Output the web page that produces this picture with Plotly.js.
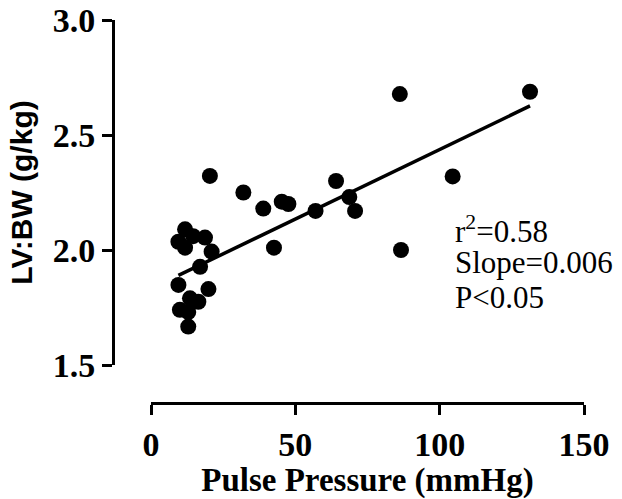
<!DOCTYPE html>
<html>
<head>
<meta charset="utf-8">
<script src="https://cdn.plot.ly/plotly-3.0.1.min.js"></script>
<style>html,body{margin:0;padding:0;background:#fff;}#chart{width:622px;height:499px;}</style>
</head>
<body>
<div id="chart"></div>
<script>
// Pulse pressure (mmHg)
const pulsePressure = [9.5, 11.8, 11.8, 14.6, 18.7, 21.0, 17.0, 9.5, 19.9, 13.5, 16.4, 10.0, 12.9, 12.9,
                       20.4, 32.0, 38.9, 45.3, 47.6, 57.0, 64.1, 68.7, 70.7, 42.6, 86.6, 86.2, 104.5, 131.3];
// LV:BW (g/kg)
const lvbw = [2.036, 2.09, 2.01, 2.06, 2.054, 1.993, 1.927, 1.848, 1.83, 1.79, 1.775, 1.74, 1.73, 1.667,
              2.322, 2.25, 2.18, 2.21, 2.20, 2.17, 2.30, 2.23, 2.17, 2.01, 2.00, 2.678, 2.32, 2.688];
// Linear fit
const fitSlope = 0.00605;
const fitIntercept = 1.832;
const xTicks = [0, 50, 100, 150];
const xTickLabels = ['0', '50', '100', '150'];
const yTicks = [1.5, 2.0, 2.5, 3.0];
const yTickLabels = ['1.5', '2.0', '2.5', '3.0'];
const statsLines = ['r<sup>2</sup>=0.58', 'Slope=0.006', 'P&lt;0.05'];
const statsY = [2.09, 1.945, 1.795];
const statsX = 104.6;

const xMin = Math.min(...pulsePressure), xMax = Math.max(...pulsePressure);
const fitX = [xMin, xMax];
const fitY = fitX.map(v => fitIntercept + fitSlope * v);

const W = 622, H = 499;
const mL = 113, mR = 38, mT = 20, mB = 96;
const plotW = W - mL - mR, plotH = H - mT - mB;
const xStartPx = 151, yEndPx = 365;

const serif = 'Liberation Serif, Times New Roman, serif';
const sans = 'Liberation Sans, Arial, sans-serif';

const traces = [
  {x: pulsePressure, y: lvbw, type: 'scatter', mode: 'markers',
   marker: {color: '#000', size: 16}, hoverinfo: 'x+y'},
  {x: fitX, y: fitY, type: 'scatter', mode: 'lines',
   line: {color: '#000', width: 3.5}, hoverinfo: 'skip'}
];

const layout = {
  width: W, height: H,
  margin: {l: mL, r: mR, t: mT, b: mB, pad: 0},
  paper_bgcolor: '#fff', plot_bgcolor: '#fff',
  showlegend: false,
  xaxis: {
    domain: [(xStartPx - mL) / plotW, 1],
    range: [0, 150], anchor: 'free', position: 0,
    showline: true, linecolor: '#000', linewidth: 3,
    ticks: 'outside', ticklen: 10, tickwidth: 3, tickcolor: '#000',
    tickvals: xTicks, ticktext: xTickLabels,
    tickfont: {family: serif, size: 34, color: '#000', weight: 'bold'},
    showgrid: false, zeroline: false,
    title: {text: '<b>Pulse Pressure (mmHg)</b>', font: {family: serif, size: 33, color: '#000'}, standoff: 12}
  },
  yaxis: {
    domain: [(plotH - (yEndPx - mT)) / plotH, 1],
    range: [1.5, 3.0], anchor: 'free', position: 0,
    showline: true, linecolor: '#000', linewidth: 3,
    ticks: 'outside', ticklen: 10, tickwidth: 3, tickcolor: '#000',
    tickvals: yTicks, ticktext: yTickLabels,
    tickfont: {family: serif, size: 34, color: '#000', weight: 'bold'},
    showgrid: false, zeroline: false,
    title: {text: '<b>LV:BW (g/kg)</b>', font: {family: sans, size: 30, color: '#000'}, standoff: 10}
  },
  annotations: statsLines.map((t, i) => ({
    text: t, x: statsX, y: statsY[i], xref: 'x', yref: 'y',
    xanchor: 'left', yanchor: 'middle', showarrow: false,
    font: {family: serif, size: 31, color: '#000'}
  }))
};

Plotly.newPlot('chart', traces, layout, {displayModeBar: false, staticPlot: true});
</script>
</body>
</html>
